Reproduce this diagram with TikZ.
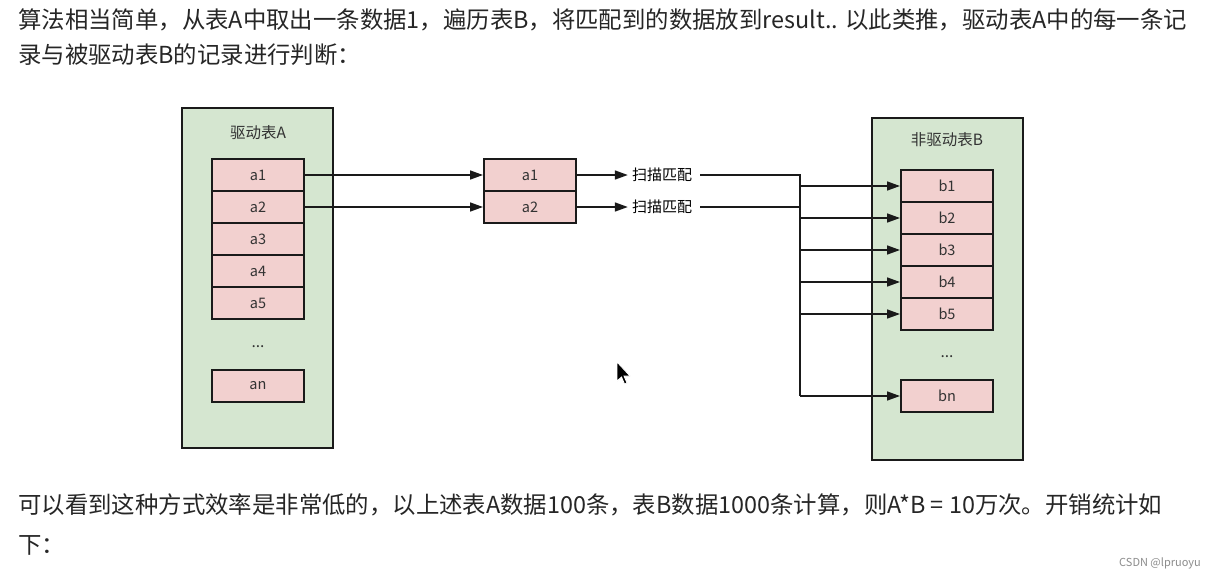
\documentclass[tikz,border=0pt]{standalone}
\usepackage{fontspec}
\setmainfont{Noto Sans CJK SC}
\usetikzlibrary{arrows.meta}
\definecolor{gfill}{HTML}{D5E6D0}
\definecolor{pfill}{HTML}{F2D0CF}
\definecolor{ink}{HTML}{1A1A1A}
\tikzset{
  container/.style={draw=ink, line width=2pt, fill=gfill, minimum width=151pt, inner sep=0pt},
  cell/.style={draw=ink, line width=2pt, fill=pfill, minimum width=92pt, minimum height=32pt, inner sep=0pt, font=\fontsize{14.5}{14.5}\selectfont, text=black!80},
  title/.style={font=\fontsize{15.5}{15.5}\selectfont, text=black!80},
  lbl/.style={font=\fontsize{15}{15}\selectfont, inner sep=4pt},
  para/.style={anchor=west, inner sep=0pt, font=\fontsize{23.4}{23.4}\selectfont, text=black!85},
  conn/.style={draw=ink, line width=1.6pt},
  arr/.style={conn, -{Triangle[length=13pt,width=9pt]}},
}
\begin{document}
\begin{tikzpicture}[x=1pt,y=-1pt]
\useasboundingbox (0,0) rectangle (1215,579);
\fill[white] (0,0) rectangle (1215,579);
% paragraph text
\node[para] (t1) at (18,20) {算法相当简单，从表A中取出一条数据1，遍历表B，将匹配到的数据放到result.. 以此类推，驱动表A中的每一条记};
\node[para] (t2) at (18,55) {录与被驱动表B的记录进行判断：};
\node[para] (t3) at (18,505) {可以看到这种方式效率是非常低的，以上述表A数据100条，表B数据1000条计算，则A*B = 10万次。开销统计如};
\node[para] (t4) at (18,545) {下：};
\node[anchor=east, inner sep=0pt, font=\fontsize{11}{11}\selectfont, text=black!45] (wm) at (1201,563) {CSDN @lpruoyu};
% containers
\node[container, minimum height=340pt] (A) at (257.5,278) {};
\node[container, minimum height=342pt] (B) at (947,289) {};
\node[title] (tA) at (258,133) {驱动表A};
\node[title] (tB) at (947,140) {非驱动表B};
% A cells
\node[cell] (a1) at (258,175) {a1};
\node[cell] (a2) at (258,207) {a2};
\node[cell] (a3) at (258,239) {a3};
\node[cell] (a4) at (258,271) {a4};
\node[cell] (a5) at (258,303) {a5};
\node[title] (ad) at (258,347) {...};
\node[cell] (an) at (258,386) {an};
% middle cells
\node[cell] (m1) at (530,175) {a1};
\node[cell] (m2) at (530,207) {a2};
% B cells
\node[cell] (b1) at (947,186) {b1};
\node[cell] (b2) at (947,218) {b2};
\node[cell] (b3) at (947,250) {b3};
\node[cell] (b4) at (947,282) {b4};
\node[cell] (b5) at (947,314) {b5};
\node[title] (bd) at (947,357) {...};
\node[cell] (bn) at (947,396) {bn};
% labels
\node[lbl] (s1) at (662,175) {扫描匹配};
\node[lbl] (s2) at (662,207) {扫描匹配};
% connectors
\draw[arr] (a1.east) -- (m1.west);
\draw[arr] (a2.east) -- (m2.west);
\draw[arr] (m1.east) -- (s1.west);
\draw[arr] (m2.east) -- (s2.west);
\coordinate (j1) at (800,175);
\coordinate (j2) at (800,207);
\draw[conn] ([xshift=4pt]s1.east) -- (j1) -- (j1 |- bn.west);
\draw[conn] ([xshift=4pt]s2.east) -- (j2);
\foreach \b in {b1,b2,b3,b4,b5,bn}{
  \draw[arr] (j1 |- \b.west) -- (\b.west);
}
% mouse cursor
\filldraw[fill=black, draw=white, line width=0.8pt] (617,362) -- (617,381) -- (621.5,377) -- (624.5,384) -- (627,383) -- (624,376) -- (630,376) -- cycle;
\end{tikzpicture}
\end{document}
